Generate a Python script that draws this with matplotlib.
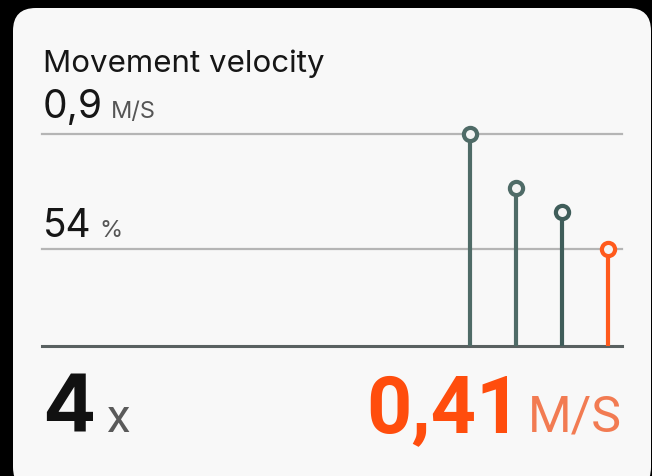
import matplotlib.pyplot as plt
from matplotlib.patches import FancyBboxPatch

# data
reps = [1, 2, 3, 4]
velocity = [0.90, 0.67, 0.57, 0.41]  # m/s
best_velocity = 0.9
loss_threshold = 0.41  # line labelled 54 %
stem_colors = ["#4f6b67", "#4f6b67", "#3f5d5a", "#ff5a1c"]

W, H = 652, 476


def fx(px):
    return px / W


def fy(py):
    return 1 - py / H


fig = plt.figure(figsize=(W / 100, H / 100), dpi=100)
fig.patch.set_facecolor("black")

# the white card
card = FancyBboxPatch((fx(13), fy(490)), fx(651) - fx(13), fy(8) - fy(490),
                      boxstyle="round,pad=0,rounding_size=0.035",
                      transform=fig.transFigure, facecolor="#f8f8f8",
                      edgecolor="none", mutation_aspect=W / H, zorder=-5)
fig.patches.append(card)

# stems area: baseline at y=346px, 0.9 m/s at y=134px, x from 42 to 622px
ax = fig.add_axes([fx(42), fy(346), fx(622) - fx(42), fy(134) - fy(346)])
ax.set_zorder(2)
ax.set_facecolor("none")
ax.set_xlim(reps[0] - (470 - 42) / 46, reps[-1] + (622 - 608) / 46)
ax.set_ylim(0, best_velocity)
ax.axis("off")

ax.axhline(best_velocity, color="#b5b5b5", lw=1.6, clip_on=False)
ax.axhline(loss_threshold, color="#b5b5b5", lw=1.6, clip_on=False)
ax.axhline(0, color="#596161", lw=2.2, clip_on=False)

for r, v, c in zip(reps, velocity, stem_colors):
    ax.plot([r, r], [0, v], color=c, lw=3.0, solid_capstyle="butt", clip_on=False)
    ax.plot(r, v, "o", ms=9.5, mfc="#f4f4f4", mec=c, mew=3.0, clip_on=False)

font = "Inter"
bold_font = "Roboto"
fig.text(fx(43), fy(72), "Movement velocity", fontsize=22.5, family=font,
         color="#161616", va="baseline")
fig.text(fx(43), fy(118), "0,9", fontsize=28, family=font,
         color="#161616", va="baseline")
fig.text(fx(111), fy(118), "M/S", fontsize=17, family=font,
         color="#555555", va="baseline")
fig.text(fx(43), fy(237), "54", fontsize=28, family=font,
         color="#161616", va="baseline")
fig.text(fx(99), fy(237), "%", fontsize=17, family=font,
         color="#555555", va="baseline")

fig.text(fx(42), fy(432), "4", fontsize=57, family=font, weight="bold",
         color="#111111", va="baseline")
fig.text(fx(106), fy(432), "x", fontsize=34, family=bold_font,
         color="#5a5a5a", va="baseline")
fig.text(fx(366), fy(432), "0,41", fontsize=57, family=bold_font, weight="bold",
         color="#ff4d0d", va="baseline")
fig.text(fx(528), fy(432), "M/S", fontsize=36, family=bold_font,
         color="#f27b52", va="baseline")

fig.savefig("out.png", dpi=100, facecolor=fig.get_facecolor())
